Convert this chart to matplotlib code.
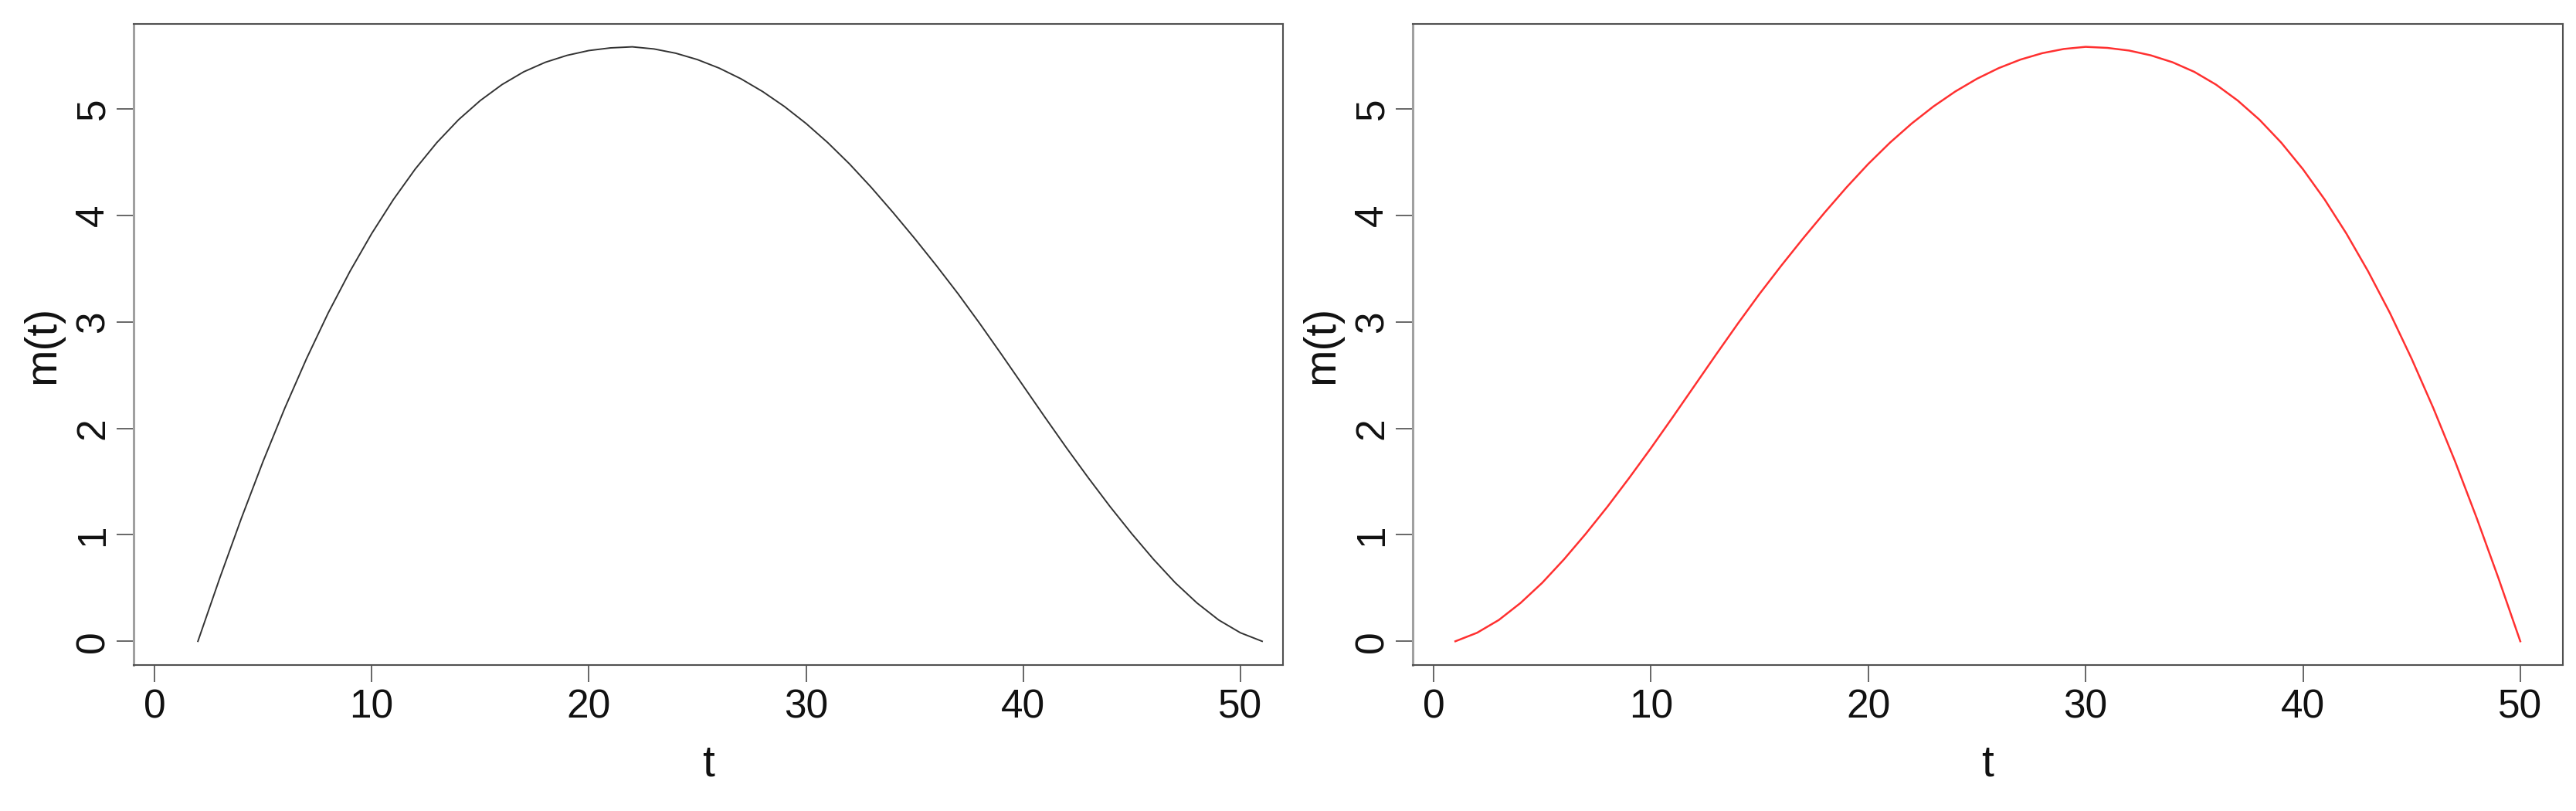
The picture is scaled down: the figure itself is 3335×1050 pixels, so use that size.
import matplotlib
matplotlib.use("Agg")
import matplotlib.pyplot as plt

plt.rcParams['font.family'] = ['Liberation Sans', 'DejaVu Sans']

# left panel: t = 2..51
t_left = list(range(2, 52))
m_left = [0.00, 0.59, 1.155, 1.69, 2.19, 2.655, 3.085, 3.475, 3.83, 4.15,
          4.435, 4.685, 4.90, 5.08, 5.23, 5.35, 5.44, 5.505, 5.55, 5.575,
          5.585, 5.565, 5.525, 5.465, 5.385, 5.285, 5.165, 5.025, 4.865, 4.685,
          4.485, 4.265, 4.03, 3.785, 3.53, 3.265, 2.985, 2.695, 2.40, 2.105,
          1.815, 1.535, 1.265, 1.01, 0.77, 0.55, 0.36, 0.20, 0.08, 0.00]

# right panel: t = 1..50
t_right = list(range(1, 51))
m_right = [0.00, 0.08, 0.20, 0.36, 0.55, 0.77, 1.01, 1.265, 1.535, 1.815,
           2.105, 2.40, 2.695, 2.985, 3.265, 3.53, 3.785, 4.03, 4.265, 4.485,
           4.685, 4.865, 5.025, 5.165, 5.285, 5.385, 5.465, 5.525, 5.565, 5.585,
           5.575, 5.55, 5.505, 5.44, 5.35, 5.23, 5.08, 4.90, 4.685, 4.435,
           4.15, 3.83, 3.475, 3.085, 2.655, 2.19, 1.69, 1.155, 0.59, 0.00]

x_ticks = [0, 10, 20, 30, 40, 50]
y_ticks = [0, 1, 2, 3, 4, 5]

fig = plt.figure(figsize=(33.35, 10.5), dpi=100)
ax1 = fig.add_axes([0.05187, 0.18, 0.44618, 0.79048])
ax2 = fig.add_axes([0.54843, 0.18, 0.44648, 0.79048])

ax1.plot(t_left, m_left, color='#333333', lw=1.4)
ax2.plot(t_right, m_right, color='#ff3030', lw=1.8)

for ax in (ax1, ax2):
    ax.set_xlim(-0.96, 51.96)
    ax.set_ylim(-0.223, 5.80)
    ax.set_xticks(x_ticks)
    ax.set_yticks(y_ticks)
    ax.tick_params(axis='both', labelsize=37, length=16, width=1.4,
                   color='#666666', labelcolor='#111111')
    ax.tick_params(axis='x', pad=6)
    ax.tick_params(axis='y', pad=4)
    plt.setp(ax.get_yticklabels(), rotation=90, va='center')
    for side in ['top', 'right', 'bottom']:
        ax.spines[side].set_color('#505050')
        ax.spines[side].set_linewidth(1.5)
    ax.spines['left'].set_color('#a0a0a0')
    ax.spines['left'].set_linewidth(2.2)
    ax.set_xlabel('t', fontsize=41, color='#111111', labelpad=16)
    ax.set_ylabel('m(t)', fontsize=41, color='#111111', labelpad=10)

fig.savefig('out.png', dpi=100)
